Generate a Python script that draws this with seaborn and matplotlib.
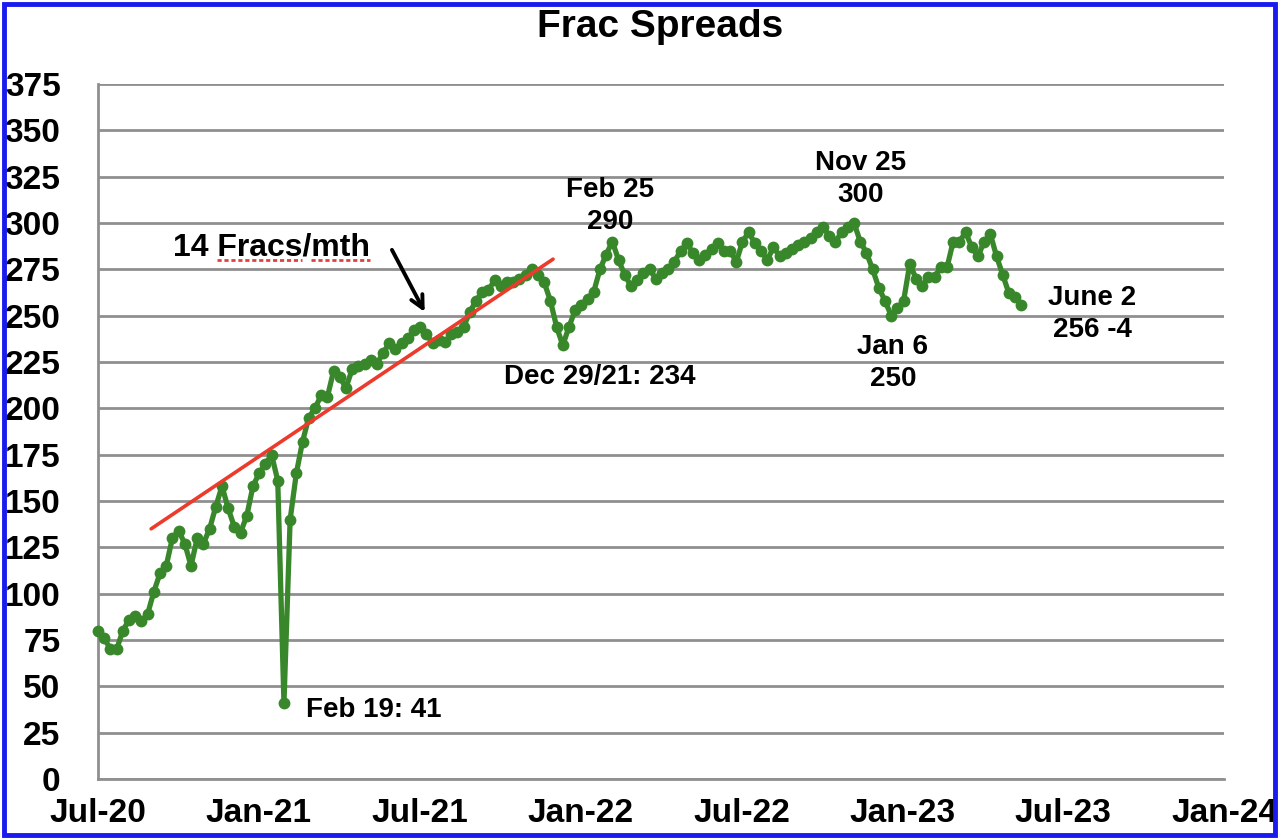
import numpy as np
import pandas as pd
import matplotlib
matplotlib.use('Agg')
import matplotlib.pyplot as plt
import matplotlib.dates as mdates
from matplotlib.patches import Rectangle
from matplotlib.lines import Line2D
import seaborn as sns

# Weekly frac spread count, one reading per Friday (first Jul 24 2020, last Jun 2 2023)
first_week = '2020-07-24'
frac_spreads = [
    80, 76, 70, 70, 80, 86, 88, 85, 89, 101, 111, 115, 130, 134, 127, 115,
    130, 127, 135, 147, 158, 146, 136, 133, 142, 158, 165, 170, 175, 161, 41,
    140, 165, 182, 195, 200, 207, 206, 220, 217, 211, 221, 223, 224, 226,
    224, 230, 235, 232, 235, 238, 242, 244, 240, 235, 237, 236, 240, 241,
    244, 252, 258, 263, 264, 269, 266, 268, 268, 270, 272, 275, 272, 268, 258, 244, 234,
    244, 253, 256, 259, 263, 275, 283, 290,
    280, 272, 266, 269, 273, 275, 270, 273, 275, 279, 285, 289, 284, 280, 283, 286,
    289, 285, 285, 279, 290, 295,
    289, 285, 280, 287, 282, 284, 286, 288, 290, 292, 295, 298, 293, 290, 295, 298, 300,
    290, 284, 275, 265, 258, 250,
    254, 258, 278, 270, 266, 271, 271, 276, 276, 290, 290, 295, 287, 282, 290, 294,
    282, 272, 262, 260, 256,
]

# "14 Fracs/mth" trend line end points
trend_dates = ['2020-09-22', '2021-12-20']
trend_values = [135, 280.5]

# x axis range and labels
axis_start = '2020-07-24'
axis_end = '2024-01-17'
tick_labels = ['Jul-20', 'Jan-21', 'Jul-21', 'Jan-22', 'Jul-22', 'Jan-23', 'Jul-23', 'Jan-24']

# callouts: text, date, value, alignment
notes = [
    ('Feb 19: 41', '2021-03-16', 37, 'left'),
    ('Dec 29/21: 234', '2022-02-11', 217, 'center'),
    ('Feb 25\n290', '2022-02-22', 309, 'center'),
    ('Nov 25\n300', '2022-12-02', 324, 'center'),
    ('Jan 6\n250', '2023-01-08', 224.5, 'center'),
    ('June 2\n256 -4', '2023-08-21', 251, 'center'),
]
arrow_tail = ('2021-06-21', 285.5)
arrow_tip = ('2021-07-28', 252)
trend_label = ('14 Fracs/mth', '2021-02-05', 287)

green = '#38872a'
red = '#ec3b2c'
grey = '#8f8f8f'

sns.set_style('white')
plt.rcParams['font.family'] = ['Liberation Sans', 'DejaVu Sans']
plt.rcParams['font.weight'] = 'bold'
plt.rcParams['text.color'] = 'black'
plt.rcParams['xtick.labelcolor'] = 'black'
plt.rcParams['ytick.labelcolor'] = 'black'

fig = plt.figure(figsize=(12.8, 8.4), dpi=100)
ax = fig.add_axes([0.0766, 0.0726, 0.8797, 0.8274])

df = pd.DataFrame({
    'week': pd.date_range(first_week, periods=len(frac_spreads), freq='7D'),
    'spreads': frac_spreads,
})
sns.lineplot(data=df, x='week', y='spreads', ax=ax, color=green, linewidth=3.8,
             marker='o', markersize=8.5, markeredgewidth=0, clip_on=False, zorder=3)

trend = pd.DataFrame({'date': pd.to_datetime(trend_dates), 'value': trend_values})
sns.lineplot(data=trend, x='date', y='value', ax=ax, color=red, linewidth=2.6, zorder=4)

# axes
ax.set_xlim(pd.Timestamp(axis_start), pd.Timestamp(axis_end))
ax.set_ylim(0, 375)
ticks = np.linspace(mdates.date2num(pd.Timestamp(axis_start)),
                    mdates.date2num(pd.Timestamp(axis_end)), len(tick_labels))
ax.set_xticks(ticks)
ax.set_xticklabels(tick_labels)
ax.set_yticks(range(0, 376, 25))
ax.set_xlabel('')
ax.set_ylabel('')

ax.yaxis.grid(True, color=grey, linewidth=2)
ax.xaxis.grid(False)
ax.set_axisbelow(True)
ax.tick_params(axis='x', direction='in', length=6, width=1.5, color=grey, pad=14, labelsize=24)
ax.tick_params(axis='y', length=0, pad=27, labelsize=24)
for spine in ['top', 'right']:
    ax.spines[spine].set_visible(False)
for spine in ['bottom', 'left']:
    ax.spines[spine].set_color(grey)
    ax.spines[spine].set_linewidth(2)

# title
fig.text(0.516, 1 - 27 / 840, 'Frac Spreads', ha='center', va='center',
         fontsize=28, fontweight='bold')

# callouts
for text, date, value, ha in notes:
    ax.text(pd.Timestamp(date), value, text, ha=ha, va='center',
            fontsize=20, linespacing=1.3, zorder=5)

ax.annotate('', xy=(pd.Timestamp(arrow_tip[0]), arrow_tip[1]),
            xytext=(pd.Timestamp(arrow_tail[0]), arrow_tail[1]),
            arrowprops=dict(arrowstyle='->,head_length=0.9,head_width=0.45',
                            lw=2.8, color='black', shrinkA=0, shrinkB=0))

label = ax.text(pd.Timestamp(trend_label[1]), trend_label[2], trend_label[0],
                ha='center', va='center', fontsize=23)

# red dotted spell-check underline below "Fracs" and "/mth"
fig.canvas.draw()
bb = label.get_window_extent(fig.canvas.get_renderer())
W, H = fig.get_size_inches() * fig.dpi
for f0, f1 in [(0.225, 0.657), (0.702, 1.0)]:
    x0 = bb.x0 + f0 * bb.width
    x1 = bb.x0 + f1 * bb.width
    yy = bb.y0 + 0.08 * bb.height
    fig.add_artist(Line2D([x0 / W, x1 / W], [yy / H, yy / H], transform=fig.transFigure,
                          color='#e04040', linewidth=2, linestyle=(0, (1.5, 1))))

# blue frame around the chart
fig.add_artist(Rectangle((0.003, 0.006), 0.993, 0.989, transform=fig.transFigure,
                         fill=False, edgecolor='#1a1aee', linewidth=3.5))

fig.savefig('out.png', dpi=100)
